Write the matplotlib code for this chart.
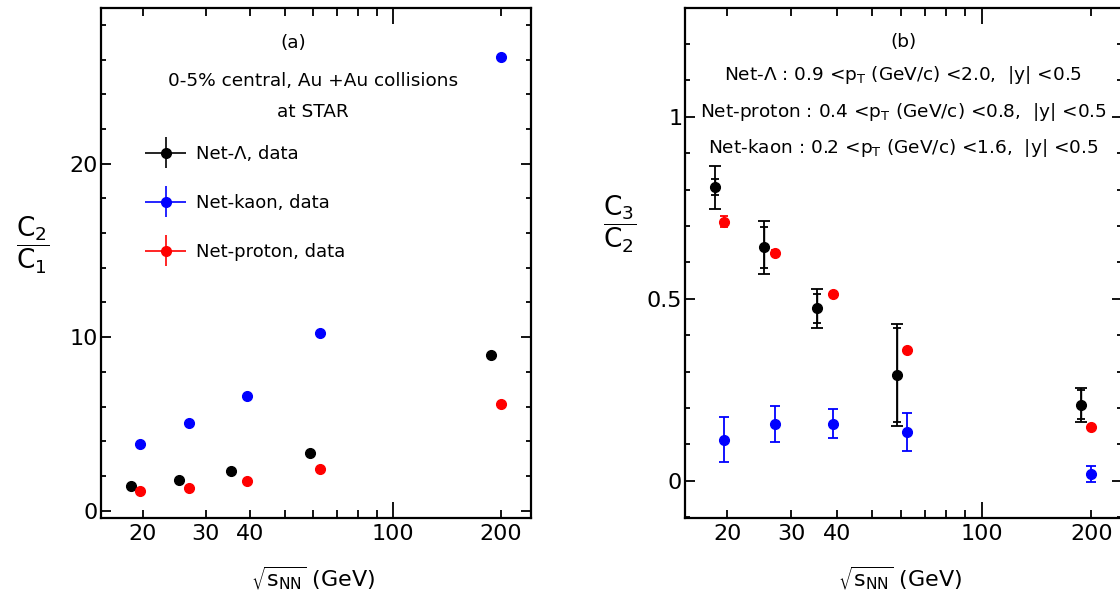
import matplotlib
matplotlib.use('Agg')
import matplotlib.pyplot as plt
from matplotlib.ticker import FixedLocator, FuncFormatter, MultipleLocator
from matplotlib.legend_handler import HandlerErrorbar
from matplotlib.container import ErrorbarContainer

plt.rcParams['font.family'] = ['DejaVu Sans']
plt.rcParams['mathtext.fontset'] = 'dejavusans'
plt.rcParams['mathtext.default'] = 'regular'

# collision energies (Lambda points are drawn slightly shifted in the figure)
lam_energy = [18.5, 25.3, 35.3, 58.7, 188]
energy = [19.6, 27, 39, 62.4, 200]

# panel (a): C2/C1
c2c1_lam = [1.44, 1.77, 2.27, 3.33, 8.95]
c2c1_lam_err = [0.08, 0.08, 0.08, 0.1, 0.18]
c2c1_kaon = [3.83, 5.04, 6.62, 10.23, 26.17]
c2c1_kaon_err = [0.05, 0.05, 0.05, 0.05, 0.08]
c2c1_prot = [1.13, 1.33, 1.71, 2.40, 6.15]
c2c1_prot_err = [0.04, 0.04, 0.04, 0.05, 0.06]

# panel (b): C3/C2
c3c2_lam = [0.806, 0.641, 0.474, 0.291, 0.209]
c3c2_lam_stat = [0.06, 0.074, 0.053, 0.141, 0.047]
c3c2_lam_sys = [0.022, 0.056, 0.04, 0.13, 0.04]
c3c2_prot = [0.712, 0.627, 0.514, 0.360, 0.149]
c3c2_prot_err = [0.016, 0.006, 0.005, 0.005, 0.004]
c3c2_kaon = [0.113, 0.156, 0.157, 0.133, 0.019]
c3c2_kaon_err = [0.062, 0.049, 0.040, 0.052, 0.022]

xticklabels = [20, 30, 40, 100, 200]

W, H = 1120, 596
fig = plt.figure(figsize=(W / 100, H / 100), dpi=100)

def px_axes(x0, x1, ytop, ybot):
    return fig.add_axes([x0 / W, (H - ybot) / H, (x1 - x0) / W, (ybot - ytop) / H])

axa = px_axes(101, 531, 7.5, 518)
axb = px_axes(685, 1122, 7.5, 518)

def style(ax):
    ax.set_xscale('log')
    ax.set_xlim(15.3, 243)
    ax.xaxis.set_major_locator(FixedLocator([10, 100, 1000]))
    ax.xaxis.set_minor_locator(FixedLocator([20, 30, 40, 50, 60, 70, 80, 90, 200]))
    fmt = FuncFormatter(lambda v, p: '%g' % v if round(v) in xticklabels else '')
    ax.xaxis.set_major_formatter(fmt)
    ax.xaxis.set_minor_formatter(fmt)
    ax.tick_params(which='both', direction='in', top=True, right=True, width=1.3,
                   labelsize=16)
    ax.tick_params(axis='x', which='major', length=11.5, pad=4)
    ax.tick_params(axis='x', which='minor', length=5.8, pad=4)
    ax.tick_params(axis='y', which='major', length=7.5, pad=2)
    ax.tick_params(axis='y', which='minor', length=3.8)
    for s in ax.spines.values():
        s.set_linewidth(1.6)
    ax.set_xlabel(r'$\sqrt{s_{NN}}$ (GeV)', fontsize=16, va='center')
    ax.xaxis.set_label_coords(0.493, -0.118)

# ---- panel (a)
style(axa)
axa.set_ylim(-0.42, 29.0)
axa.yaxis.set_major_locator(MultipleLocator(10))
axa.yaxis.set_minor_locator(MultipleLocator(2))
kw = dict(fmt='o', ms=7, capsize=0, elinewidth=1.2)
axa.errorbar(lam_energy, c2c1_lam, yerr=c2c1_lam_err, xerr=[0] * 5, color='black',
             label='Net-Λ, data', **kw)
axa.errorbar(energy, c2c1_kaon, yerr=c2c1_kaon_err, xerr=[0] * 5, color='blue',
             label='Net-kaon, data', **kw)
axa.errorbar(energy, c2c1_prot, yerr=c2c1_prot_err, xerr=[0] * 5, color='red',
             label='Net-proton, data', **kw)
axa.legend(loc='center left', bbox_to_anchor=(0.102, 0.617), frameon=False,
           fontsize=13, borderpad=0, borderaxespad=0, labelspacing=1.72,
           handlelength=2.3, handletextpad=0.55, numpoints=1,
           handler_map={ErrorbarContainer: HandlerErrorbar(xerr_size=1.15, yerr_size=0.85)})
axa.text(0.447, 0.930, '(a)', transform=axa.transAxes, ha='center', va='center', fontsize=13.3)
axa.text(0.493, 0.856, '0-5% central, Au +Au collisions', transform=axa.transAxes,
         ha='center', va='center', fontsize=13.3)
axa.text(0.493, 0.795, 'at STAR', transform=axa.transAxes, ha='center', va='center',
         fontsize=13.3)
axa.set_ylabel(r'$\dfrac{C_2}{C_1}$', fontsize=19, rotation=0, va='center', ha='center')
axa.yaxis.set_label_coords(-0.158, 0.535)

# ---- panel (b)
style(axb)
axb.set_ylim(-0.102, 1.30)
axb.yaxis.set_major_locator(MultipleLocator(0.5))
axb.yaxis.set_minor_locator(MultipleLocator(0.1))
axb.yaxis.set_major_formatter(FuncFormatter(lambda v, p: '%g' % v))
axb.errorbar(lam_energy, c3c2_lam, yerr=c3c2_lam_stat, fmt='o', ms=7, color='black',
             capsize=4, elinewidth=1.3, capthick=1.3)
axb.errorbar(lam_energy, c3c2_lam, yerr=c3c2_lam_sys, fmt='none', ecolor='black',
             capsize=3, elinewidth=1.0, capthick=1.3)
axb.errorbar(energy, c3c2_kaon, yerr=c3c2_kaon_err, fmt='o', ms=7, color='blue',
             capsize=3.5, elinewidth=1.3, capthick=1.3)
axb.errorbar(energy, c3c2_prot, yerr=c3c2_prot_err, fmt='o', ms=7, color='red',
             capsize=3, elinewidth=1.3, capthick=1.3)
axb.text(0.499, 0.933, '(b)', transform=axb.transAxes, ha='center', va='center', fontsize=13.3)
lines = ['Net-Λ : 0.9 <p$_{T}$ (GeV/c) <2.0,  |y| <0.5',
         'Net-proton : 0.4 <p$_{T}$ (GeV/c) <0.8,  |y| <0.5',
         'Net-kaon : 0.2 <p$_{T}$ (GeV/c) <1.6,  |y| <0.5']
for t, yy in zip(lines, [0.868, 0.795, 0.725]):
    axb.text(0.499, yy, t, transform=axb.transAxes, ha='center', va='center', fontsize=13.3)
axb.set_ylabel(r'$\dfrac{C_3}{C_2}$', fontsize=19, rotation=0, va='center', ha='center')
axb.yaxis.set_label_coords(-0.149, 0.575)

fig.savefig('out.png', dpi=100)
